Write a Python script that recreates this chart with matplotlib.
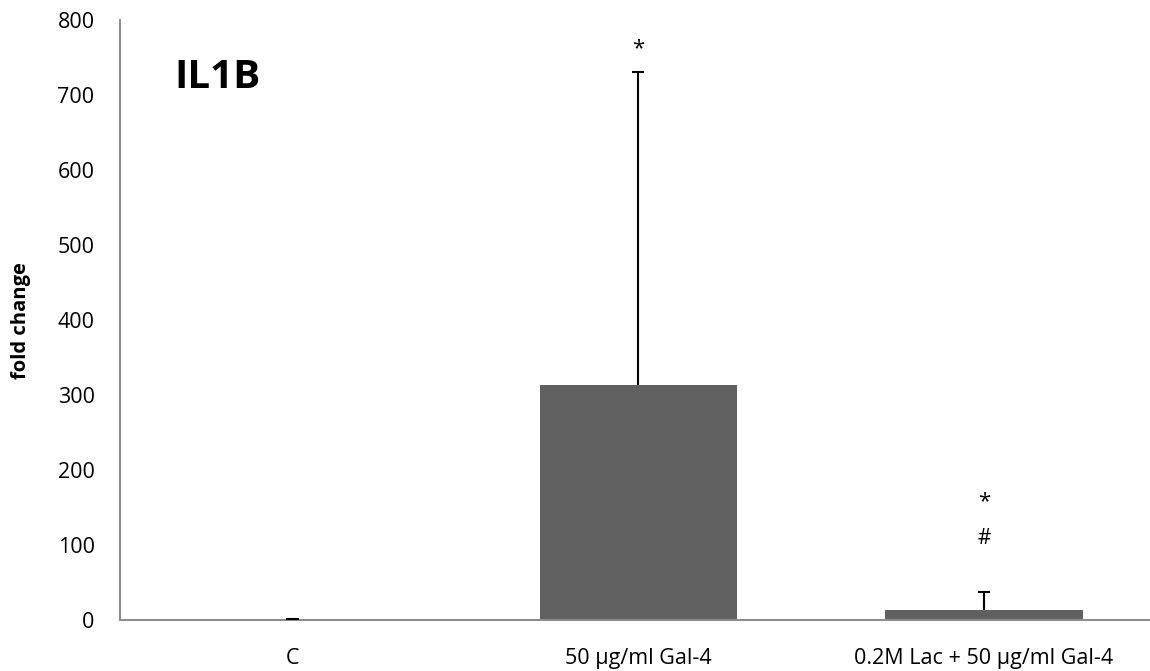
import matplotlib
matplotlib.use("Agg")
import matplotlib.pyplot as plt

categories = ["C", "50 µg/ml Gal-4", "0.2M Lac + 50 µg/ml Gal-4"]
values = [1.0, 313.0, 14.0]
errors = [1.0, 418.0, 23.0]
yticks = [0, 100, 200, 300, 400, 500, 600, 700, 800]

plt.rcParams['font.family'] = ['Open Sans', 'DejaVu Sans']

fig = plt.figure(figsize=(11.5, 6.71), dpi=100)
ax = fig.add_axes([0.104, 0.076, 0.902, 0.894])

x = list(range(len(categories)))
tops = [v + e for v, e in zip(values, errors)]
ax.bar(x, values, width=0.57, color="#606060", zorder=2)
ax.vlines(x, values, tops, color="black", linewidth=1.5, zorder=3)
ax.hlines(tops, [i - 0.018 for i in x], [i + 0.018 for i in x],
          color="black", linewidth=1.5, zorder=3)

ax.text(1, 762, "*", ha="center", va="center", fontsize=16)
ax.text(2, 158, "*", ha="center", va="center", fontsize=16)
ax.text(2, 109, "#", ha="center", va="center", fontsize=15)

ax.set_xlim(-0.5, 2.5)
ax.set_ylim(0, 800)
ax.set_yticks(yticks)
ax.set_xticks(x)
ax.set_xticklabels(categories)
ax.tick_params(axis="both", length=0, labelsize=15.5)
ax.tick_params(axis="x", pad=20)
ax.tick_params(axis="y", pad=18)

for s in ["top", "right"]:
    ax.spines[s].set_visible(False)
for s in ["left", "bottom"]:
    ax.spines[s].set_color("#8c8c8c")
    ax.spines[s].set_linewidth(1.5)

ax.set_ylabel("fold change", fontsize=14.5, fontweight="bold", labelpad=19)
ax.text(0.053, 0.905, "IL1B", transform=ax.transAxes, fontsize=29,
        fontweight="bold", ha="left", va="center")

fig.savefig("out.png", dpi=100)
